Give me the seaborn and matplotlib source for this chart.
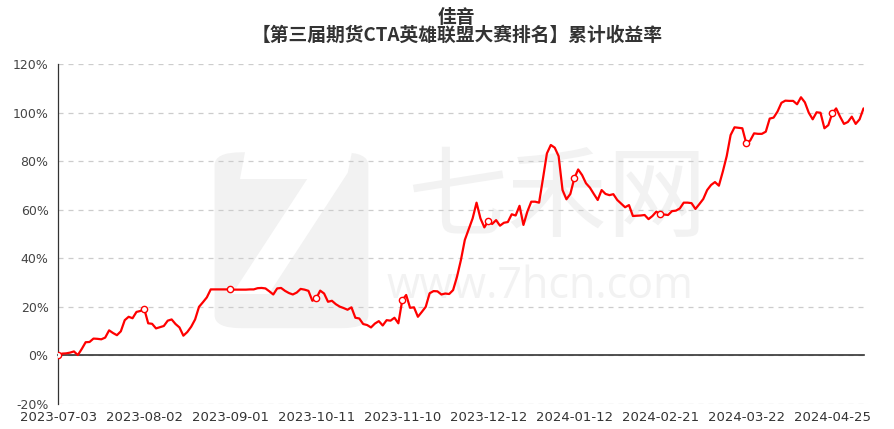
import pandas as pd  # data table for the series
import matplotlib.pyplot as plt  # figure layout and text
import seaborn as sns  # line drawing
from matplotlib.patches import FancyBboxPatch

# Titles
title_main = "佳音"
title_sub = "【第三届期货CTA英雄联盟大赛排名】累计收益率"

# Trading calendar (China futures exchanges)
start_date = "2023-07-03"
holidays = ["2023-09-29", "2023-10-02", "2023-10-03", "2023-10-04", "2023-10-05",
            "2023-10-06", "2024-01-01", "2024-02-09", "2024-02-12", "2024-02-13",
            "2024-02-14", "2024-02-15", "2024-02-16", "2024-04-04", "2024-04-05",
            "2024-05-01", "2024-05-02", "2024-05-03"]
tick_step = 22

# Cumulative return (%), one value per trading day
returns_pct = [
    0.0, 0.6, 0.7, 1.0, 1.5, 0.0, 2.5, 5.3, 5.4, 6.8,
    6.7, 6.5, 7.2, 10.2, 9.1, 8.2, 9.8, 14.4, 15.8, 15.2,
    17.8, 18.2, 19.0, 13.1, 12.9, 11.0, 11.5, 12.0, 14.2, 14.7,
    12.8, 11.4, 8.0, 9.5, 11.7, 14.7, 19.9, 21.8, 23.8, 27.1,
    27.1, 27.1, 27.1, 27.1, 27.1, 27.0, 27.0, 27.0, 27.0, 27.1,
    27.1, 27.6, 27.7, 27.5, 26.3, 25.0, 27.5, 27.7, 26.5, 25.6,
    25.0, 25.8, 27.3, 27.0, 26.5, 22.4, 23.4, 26.6, 25.4, 22.0,
    22.4, 21.0, 20.0, 19.4, 18.7, 19.7, 15.4, 15.1, 12.8, 12.4,
    11.4, 13.0, 14.0, 12.2, 14.4, 14.2, 15.4, 13.1, 22.7, 24.8,
    19.5, 19.7, 15.8, 17.8, 19.9, 25.5, 26.4, 26.3, 25.0, 25.4,
    25.2, 26.8, 32.3, 39.2, 47.5, 52.0, 56.4, 62.9, 56.4, 52.7,
    55.3, 54.1, 55.7, 53.4, 54.6, 54.9, 58.1, 57.6, 61.6, 53.7,
    59.2, 63.3, 63.3, 62.9, 72.9, 83.2, 86.7, 85.6, 82.1, 68.1,
    64.3, 66.5, 72.9, 76.6, 74.3, 70.9, 69.1, 66.5, 64.0, 68.1,
    66.5, 66.0, 66.4, 64.0, 62.5, 61.0, 61.9, 57.4, 57.5, 57.6,
    57.8, 56.1, 57.4, 59.2, 58.1, 58.0, 57.8, 59.4, 59.6, 60.5,
    62.9, 62.9, 62.7, 60.3, 62.3, 64.4, 68.1, 70.2, 71.4, 69.9,
    75.7, 82.1, 90.8, 94.0, 93.8, 93.6, 87.4, 88.5, 91.5, 91.3,
    91.3, 92.2, 97.6, 98.0, 100.5, 104.1, 105.0, 104.9, 104.9, 103.5,
    106.4, 104.3, 100.0, 97.3, 100.2, 100.0, 93.6, 94.9, 99.8, 101.8,
    98.4, 95.4, 96.2, 98.4, 95.4, 97.3, 101.8,
]

y_ticks = [-20, 0, 20, 40, 60, 80, 100, 120]

dates = pd.bdate_range(start_date, periods=len(returns_pct), freq="C", holidays=holidays)
df = pd.DataFrame({"idx": range(len(returns_pct)),
                   "date": dates.strftime("%Y-%m-%d"),
                   "ret": returns_pct})

sns.set_style("white")
plt.rcParams['font.family'] = ['DejaVu Sans', 'Noto Sans CJK SC']

fig = plt.figure(figsize=(8.94, 4.29), dpi=100)
ax = fig.add_axes([0.0652, 0.0594, 0.9007, 0.7907])

# watermark (logo + site name), kept under grid and line
wm = "#f2f2f2"
logo = FancyBboxPatch((0.240, 0.235), 0.172, 0.41, boxstyle="round,pad=0,rounding_size=0.03",
                      transform=fig.transFigure, facecolor=wm, edgecolor="none", zorder=0.1)
ax.add_patch(logo)
ax.text(0.318, 0.44, "7", transform=fig.transFigure, fontsize=140, fontweight="bold",
        style="italic", color="white", ha="center", va="center", zorder=0.2)
ax.text(0.623, 0.534, "七禾网", transform=fig.transFigure, fontsize=72, color=wm,
        ha="center", va="center", family=["Noto Sans CJK SC"], zorder=0.2)
ax.text(0.604, 0.331, "www.7hcn.com", transform=fig.transFigure, fontsize=31, color=wm,
        ha="center", va="center", family=["Open Sans"], zorder=0.2)

sns.lineplot(data=df, x="idx", y="ret", ax=ax, color="#ff0000", linewidth=1.6,
             marker="o", markevery=tick_step, markersize=4.5, markerfacecolor="white",
             markeredgecolor="#ff0000", markeredgewidth=1.0, zorder=5)

ax.set_xlim(0, len(returns_pct) - 1)
ax.set_ylim(-20, 120)
ax.set_yticks(y_ticks)
ax.set_yticklabels([f"{v}%" for v in y_ticks])
ax.yaxis.grid(True, linestyle=(0, (4, 4)), color="#cccccc", linewidth=0.9, zorder=0.6)
ax.set_axisbelow(True)

ax.set_xticks(df["idx"][::tick_step])
ax.set_xticklabels(df["date"][::tick_step])

for s in ["top", "right"]:
    ax.spines[s].set_visible(False)
ax.spines["bottom"].set_position(("data", 0))
ax.spines["bottom"].set_color("#333333")
ax.spines["bottom"].set_linewidth(1.2)
ax.spines["bottom"].set_zorder(3)
ax.spines["left"].set_color("#333333")
ax.spines["left"].set_linewidth(0.9)

ax.tick_params(axis="x", direction="out", length=5, width=1, pad=35, color="#333333",
               labelcolor="#333333", labelsize=9.5)
ax.tick_params(axis="y", direction="out", length=4, width=0.8, pad=3, color="#333333",
               labelcolor="#444444", labelsize=9)
ax.set_xlabel("")
ax.set_ylabel("")

fig.text(0.511, 0.960, title_main, fontsize=13.5, fontweight="bold", color="#333333",
         ha="center", va="center", family=["Noto Sans CJK SC", "DejaVu Sans"])
fig.text(0.511, 0.918, title_sub, fontsize=13.5, fontweight="bold", color="#333333",
         ha="center", va="center", family=["Noto Sans CJK SC", "DejaVu Sans"])

plt.savefig("out.png", dpi=100)
